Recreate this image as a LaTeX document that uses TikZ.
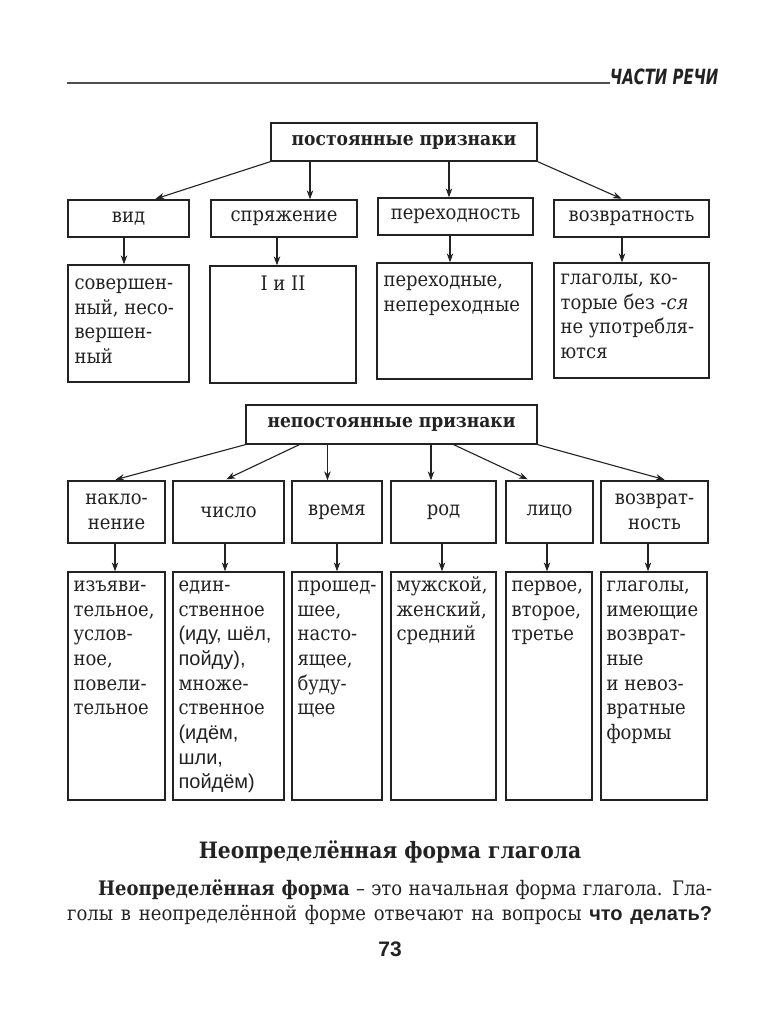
\documentclass[tikz,border=0pt]{standalone}
\usepackage{fontspec}
\setmainfont{DejaVu Serif Condensed}
\newfontfamily\sansf{Liberation Sans}
\newfontfamily\hdrf{DejaVu Sans Condensed}
\usetikzlibrary{arrows.meta,calc}
\definecolor{ink}{HTML}{222222}
\newcommand\bodyfont{\fontsize{20}{24.7}\selectfont}
\newcommand\sanstxt[1]{{\sansf\fontsize{20}{24.7}\selectfont #1}}
\newcommand\cellt[2]{\parbox[t]{#1pt}{\raggedright\bodyfont #2}}
\newcommand\boxat[6]{\node[box, minimum width={(#4-#2)*1pt}, minimum height={(#5-#3)*1pt}] (#1) at ({(#2+#4)/2},{(#3+#5)/2}) {#6};}
\begin{document}
\begin{tikzpicture}[x=1pt,y=-1pt,
  box/.style={draw=ink, line width=1.3pt, inner sep=0pt, text=ink, font=\bodyfont, align=center},
  arr/.style={draw=ink, line width=1.1pt, -{Stealth[length=9pt,width=6.5pt]}},
  celltext/.style={anchor=base west, inner sep=0pt, text=ink}
]
\useasboundingbox[fill=white] (0,0) rectangle (780,1024);

% header
\node[anchor=base west, inner sep=0pt, text=ink, font=\hdrf\bfseries\itshape\fontsize{21}{24}\selectfont] (hdr) at (610,85) {\scalebox{0.79}[1]{ЧАСТИ РЕЧИ}};
\coordinate (hl) at (67,83);
\draw[draw=ink!80, line width=1.7pt] (hl) -- (hl -| hdr.west);

% constant features
\boxat{T1}{271}{123}{537}{161}{\bfseries\fontsize{19}{24}\selectfont постоянные признаки}
\boxat{A1}{68}{200}{189}{237}{вид}
\boxat{A2}{211}{200}{357}{237}{спряжение}
\boxat{A3}{378}{198}{533}{235}{переходность}
\boxat{A4}{554}{200}{709}{237}{возвратность}

\boxat{B1}{68}{265}{189}{382}{}
\boxat{B2}{210}{266}{356}{383}{}
\boxat{B3}{377}{263}{532}{379}{}
\boxat{B4}{554}{263}{709}{378}{}

\node[celltext] (B1t) at ($(B1.north west)+(7,25)$) {\cellt{115}{совершен-\\ный, несо-\\вершен-\\ный}};
\node[anchor=base, inner sep=0pt, text=ink, font=\bodyfont] (B2t) at ($(B2.north)+(0,25)$) {I и II};
\node[celltext] (B3t) at ($(B3.north west)+(7,24)$) {\cellt{145}{переходные,\\непереходные}};
\node[celltext] (B4t) at ($(B4.north west)+(7,22)$) {\cellt{145}{глаголы, ко-\\торые без \textit{-ся}\\не употребля-\\ются}};

\draw[arr, shorten >=1.5pt] (T1.south west) -- ($(A1.north)+(25.5,0)$);
\coordinate (a2) at ($(A2.north)+(26,0)$);
\draw[arr] (a2 |- T1.south) -- (a2);
\coordinate (a3) at ($(A3.north)+(-6.5,0)$);
\draw[arr] (a3 |- T1.south) -- (a3);
\draw[arr, shorten >=1.5pt] (T1.south east) -- ($(A4.north)+(-8.5,0)$);

\coordinate (b1) at ($(A1.south)+(-4.5,0)$);
\draw[arr] (b1) -- (b1 |- B1.north);
\coordinate (b2) at ($(A2.south)+(-7,0)$);
\draw[arr] (b2) -- (b2 |- B2.north);
\coordinate (b3) at ($(A3.south)+(-5.5,0)$);
\draw[arr] (b3) -- (b3 |- B3.north);
\coordinate (b4) at ($(A4.south)+(-9.5,0)$);
\draw[arr] (b4) -- (b4 |- B4.north);

% non-constant features
\boxat{T2}{246}{405}{537}{444}{\bfseries\fontsize{19}{24}\selectfont непостоянные признаки}
\boxat{C1}{68}{481}{165}{543}{накло-\\нение}
\boxat{C2}{173}{481}{284}{543}{число}
\boxat{C3}{292}{481}{382}{543}{время}
\boxat{C4}{391}{481}{496}{543}{род}
\boxat{C5}{506}{481}{593}{543}{лицо}
\boxat{C6}{601}{481}{708}{543}{возврат-\\ность}

\draw[arr, shorten >=2.5pt] (T2.south west) -- ($(C1.north)+(-3.5,0)$);
\draw[arr, shorten >=2.5pt] ($(T2.south west)+(54,0)$) -- ($(C2.north)+(-4.5,0)$);
\coordinate (c3) at ($(C3.north)+(-9.5,0)$);
\draw[arr] (c3 |- T2.south) -- (c3);
\coordinate (c4) at ($(C4.north)+(-12.5,0)$);
\draw[arr] (c4 |- T2.south) -- (c4);
\draw[arr, shorten >=2.5pt] ($(T2.south east)+(-84,0)$) -- ($(C5.north)+(-19.5,0)$);
\draw[arr, shorten >=2.5pt] (T2.south east) -- ($(C6.north)+(12.5,0)$);

\boxat{D1}{68}{572}{165}{800}{}
\boxat{D2}{173}{572}{284}{800}{}
\boxat{D3}{292}{572}{382}{800}{}
\boxat{D4}{391}{572}{496}{800}{}
\boxat{D5}{506}{572}{592}{800}{}
\boxat{D6}{601}{572}{707}{800}{}

\coordinate (d1) at ($(C1.south)+(-1.5,0)$);
\draw[arr] (d1) -- (d1 |- D1.north);
\coordinate (d2) at ($(C2.south)+(-3.5,0)$);
\draw[arr] (d2) -- (d2 |- D2.north);
\coordinate (d3) at ($(C3.south)+(0,0)$);
\draw[arr] (d3) -- (d3 |- D3.north);
\coordinate (d4) at ($(C4.south)+(-1.5,0)$);
\draw[arr] (d4) -- (d4 |- D4.north);
\coordinate (d5) at ($(C5.south)+(-2.5,0)$);
\draw[arr] (d5) -- (d5 |- D5.north);
\coordinate (d6) at ($(C6.south)+(-6.5,0)$);
\draw[arr] (d6) -- (d6 |- D6.north);

\node[celltext] (D1t) at ($(D1.north west)+(6,20)$) {\cellt{95}{изъяви-\\тельное,\\услов-\\ное,\\повели-\\тельное}};
\node[celltext] (D2t) at ($(D2.north west)+(6,20)$) {\cellt{110}{един-\\ственное\\\sanstxt{(иду, шёл,}\\\sanstxt{пойду),}\\множе-\\ственное\\\sanstxt{(идём,}\\\sanstxt{шли,}\\\sanstxt{пойдём)}}};
\node[celltext] (D3t) at ($(D3.north west)+(6,20)$) {\cellt{90}{прошед-\\шее,\\насто-\\ящее,\\буду-\\щее}};
\node[celltext] (D4t) at ($(D4.north west)+(6,20)$) {\cellt{105}{мужской,\\женский,\\средний}};
\node[celltext] (D5t) at ($(D5.north west)+(6,20)$) {\cellt{90}{первое,\\второе,\\третье}};
\node[celltext] (D6t) at ($(D6.north west)+(6,20)$) {\cellt{105}{глаголы,\\имеющие\\возврат-\\ные\\и невоз-\\вратные\\формы}};

% bottom text
\node[anchor=base, inner sep=0pt, text=ink, font=\bfseries\fontsize{22.5}{28}\selectfont] (title) at (390,858) {Неопределённая форма глагола};
\node[anchor=base west, inner sep=0pt, text=ink, font=\fontsize{20}{24}\selectfont] (p1) at (98,895) {\makebox[614pt][s]{\textbf{Неопределённая форма} – это начальная форма глагола. Гла-}};
\node[anchor=base west, inner sep=0pt, text=ink, font=\fontsize{20}{24}\selectfont] (p2) at (67,920) {\makebox[645pt][s]{голы в неопределённой форме отвечают на вопросы {\sansf\bfseries что делать?}}};
\node[anchor=base, inner sep=0pt, text=ink, font=\sansf\bfseries\fontsize{21}{24}\selectfont] (pg) at (390,956) {73};
\end{tikzpicture}
\end{document}
